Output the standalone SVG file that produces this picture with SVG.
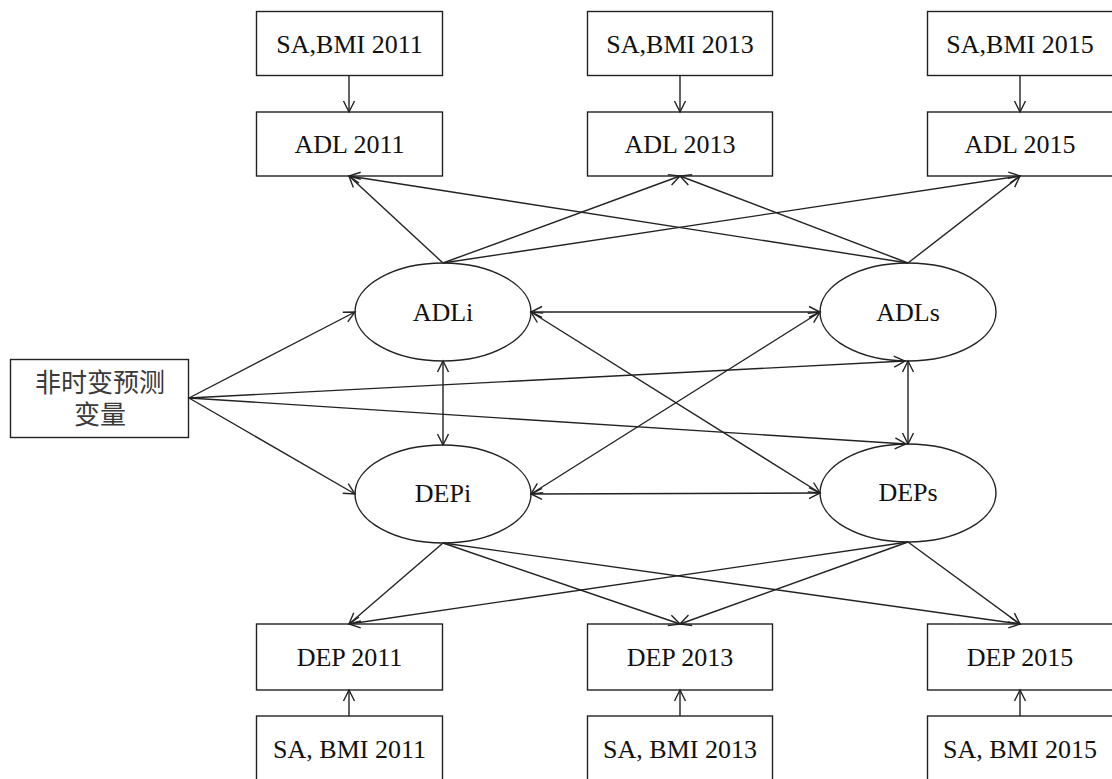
<svg xmlns="http://www.w3.org/2000/svg" width="1112" height="779" viewBox="0 0 1112 779">
<style>
.box{fill:#fff;stroke:#222;stroke-width:1.4}
.ell{fill:#fff;stroke:#222;stroke-width:1.4}
.t{font-family:"Liberation Serif","Times New Roman",serif;font-size:26px;fill:#111;text-anchor:middle}
.cj{font-family:"Noto Sans CJK SC","Noto Sans CJK JP",sans-serif;font-size:26px;fill:#3a3a3a;text-anchor:middle}
.c line{stroke:#222;stroke-width:1.4;fill:none}
.a{marker-end:url(#ah)}
.d{marker-start:url(#ah);marker-end:url(#ah)}
</style>
<defs>
<marker id="ah" viewBox="0 0 12 12" refX="11.5" refY="6" markerWidth="12" markerHeight="12" markerUnits="userSpaceOnUse" orient="auto-start-reverse" overflow="visible">
<path d="M0.5,0.5 L11.5,6 L0.5,11.5" fill="none" stroke="#222" stroke-width="1.4"/>
</marker>
</defs>
<rect width="1112" height="779" fill="#fff"/>
<g id="sa2011"><rect class="box" x="256.5" y="11.5" width="186" height="64"/><text class="t" x="349.5" y="53">SA,BMI 2011</text></g>
<g id="sa2013"><rect class="box" x="587.5" y="11.5" width="185" height="64"/><text class="t" x="680" y="53">SA,BMI 2013</text></g>
<g id="sa2015"><rect class="box" x="927.5" y="11.5" width="186" height="64"/><text class="t" x="1020" y="53">SA,BMI 2015</text></g>
<g id="adl2011"><rect class="box" x="256.5" y="112" width="186" height="64"/><text class="t" x="349.5" y="153">ADL 2011</text></g>
<g id="adl2013"><rect class="box" x="587.5" y="112" width="185" height="64"/><text class="t" x="680" y="153">ADL 2013</text></g>
<g id="adl2015"><rect class="box" x="927.5" y="112" width="186" height="64"/><text class="t" x="1020" y="153">ADL 2015</text></g>
<g id="adli"><ellipse class="ell" cx="443" cy="312" rx="88" ry="49"/><text class="t" x="443" y="321">ADLi</text></g>
<g id="adls"><ellipse class="ell" cx="908" cy="312" rx="88" ry="49"/><text class="t" x="908" y="321">ADLs</text></g>
<g id="depi"><ellipse class="ell" cx="443" cy="494" rx="88" ry="49"/><text class="t" x="443" y="502">DEPi</text></g>
<g id="deps"><ellipse class="ell" cx="908" cy="493" rx="88" ry="49"/><text class="t" x="908" y="501">DEPs</text></g>
<g id="predictor"><rect class="box" x="10.5" y="359.5" width="178" height="78"/><text class="cj" x="100" y="392">非时变预测</text><text class="cj" x="100" y="424">变量</text></g>
<g id="dep2011"><rect class="box" x="256.5" y="624" width="186" height="66"/><text class="t" x="349.5" y="666">DEP 2011</text></g>
<g id="dep2013"><rect class="box" x="587.5" y="624" width="185" height="66"/><text class="t" x="680" y="666">DEP 2013</text></g>
<g id="dep2015"><rect class="box" x="927.5" y="624" width="186" height="66"/><text class="t" x="1020" y="666">DEP 2015</text></g>
<g id="sab2011"><rect class="box" x="256.5" y="716" width="186" height="66"/><text class="t" x="349.5" y="758">SA, BMI 2011</text></g>
<g id="sab2013"><rect class="box" x="587.5" y="716" width="185" height="66"/><text class="t" x="680" y="758">SA, BMI 2013</text></g>
<g id="sab2015"><rect class="box" x="927.5" y="716" width="186" height="66"/><text class="t" x="1020" y="758">SA, BMI 2015</text></g>
<g class="c" id="connectors">
<line class="a" x1="349" y1="75" x2="349" y2="112"/>
<line class="a" x1="680" y1="75" x2="680" y2="112"/>
<line class="a" x1="1020" y1="75" x2="1020" y2="112"/>
<line class="a" x1="443" y1="263" x2="349" y2="176"/>
<line class="a" x1="443" y1="263" x2="680" y2="176"/>
<line class="a" x1="443" y1="263" x2="1020" y2="176"/>
<line class="a" x1="908" y1="263" x2="349" y2="176"/>
<line class="a" x1="908" y1="263" x2="680" y2="176"/>
<line class="a" x1="908" y1="263" x2="1020" y2="176"/>
<line class="d" x1="531" y1="312" x2="820" y2="312"/>
<line class="d" x1="531" y1="494" x2="820" y2="493"/>
<line class="d" x1="531" y1="312" x2="820" y2="493"/>
<line class="d" x1="531" y1="494" x2="820" y2="312"/>
<line class="d" x1="443" y1="361" x2="443" y2="445"/>
<line class="d" x1="908" y1="361" x2="908" y2="444"/>
<line class="a" x1="189" y1="398" x2="355" y2="312"/>
<line class="a" x1="189" y1="398" x2="355" y2="494"/>
<line class="a" x1="189" y1="398" x2="905" y2="361"/>
<line class="a" x1="189" y1="398" x2="906" y2="444"/>
<line class="a" x1="443" y1="543" x2="349" y2="624"/>
<line class="a" x1="443" y1="543" x2="680" y2="624"/>
<line class="a" x1="443" y1="543" x2="1020" y2="624"/>
<line class="a" x1="908" y1="542" x2="349" y2="624"/>
<line class="a" x1="908" y1="542" x2="680" y2="624"/>
<line class="a" x1="908" y1="542" x2="1020" y2="624"/>
<line class="a" x1="349" y1="716" x2="349" y2="690"/>
<line class="a" x1="680" y1="716" x2="680" y2="690"/>
<line class="a" x1="1020" y1="716" x2="1020" y2="690"/>
</g>
</svg>
